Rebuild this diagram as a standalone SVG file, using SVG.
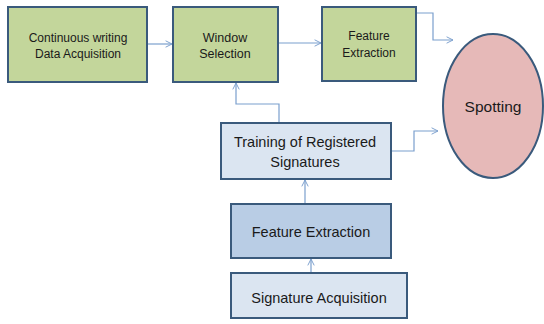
<svg xmlns="http://www.w3.org/2000/svg" width="544" height="324" viewBox="0 0 544 324">
<defs>
<style>
.box{stroke:#3a5a7c;stroke-width:2}
.g{fill:#c3d69b}
.lb{fill:#dbe5f1}
.mb{fill:#b9cde5}
.t{font-family:"Liberation Sans",Arial,sans-serif;fill:#1a1a1a;text-anchor:middle}
.c{fill:none;stroke:#7b9fcd;stroke-width:1.2}
</style>
<marker id="a" viewBox="0 0 10 10" refX="9" refY="5" markerWidth="8" markerHeight="8" orient="auto" markerUnits="userSpaceOnUse">
<path d="M1,1 L9,5 L1,9" fill="none" stroke="#7b9fcd" stroke-width="1.2"/>
</marker>
</defs>
<rect width="544" height="324" fill="#ffffff"/>
<g id="connectors">
<path class="c" d="M147,44 H172" marker-end="url(#a)"/>
<path class="c" d="M278,43 H321" marker-end="url(#a)"/>
<path class="c" d="M416,13 H433 V40 H453" marker-end="url(#a)"/>
<path class="c" d="M279,123 V104 H236 V83" marker-end="url(#a)"/>
<path class="c" d="M391,151 H414 V131 H438" marker-end="url(#a)"/>
<path class="c" d="M305,213 V180" marker-end="url(#a)"/>
<path class="c" d="M311,274 V259" marker-end="url(#a)"/>
</g>
<g id="n1">
<rect class="box g" x="8" y="7" width="139" height="75"/>
<text class="t" x="78" y="42" font-size="12">Continuous writing</text>
<text class="t" x="78" y="58" font-size="12">Data Acquisition</text>
</g>
<g id="n2">
<rect class="box g" x="173" y="7" width="105" height="75"/>
<text class="t" x="225" y="42" font-size="12.5">Window</text>
<text class="t" x="225" y="58" font-size="12.5">Selection</text>
</g>
<g id="n3">
<rect class="box g" x="322" y="7" width="94" height="74"/>
<text class="t" x="369" y="40" font-size="12">Feature</text>
<text class="t" x="369" y="57" font-size="12">Extraction</text>
</g>
<g id="n4">
<ellipse cx="493" cy="106" rx="50" ry="72" fill="#e6b9b8" stroke="#3a5a7c" stroke-width="2"/>
<text class="t" x="493" y="112" font-size="15.5">Spotting</text>
</g>
<g id="n5">
<rect class="box lb" x="221" y="123" width="170" height="56"/>
<text class="t" x="305" y="147" font-size="14.5">Training of Registered</text>
<text class="t" x="305" y="167" font-size="14.5">Signatures</text>
</g>
<g id="n6">
<rect class="box mb" x="231" y="204" width="160" height="54"/>
<text class="t" x="311" y="237" font-size="14.5">Feature Extraction</text>
</g>
<g id="n7">
<rect class="box lb" x="231" y="273" width="176" height="45"/>
<text class="t" x="319" y="303" font-size="14.5">Signature Acquisition</text>
</g>
</svg>
